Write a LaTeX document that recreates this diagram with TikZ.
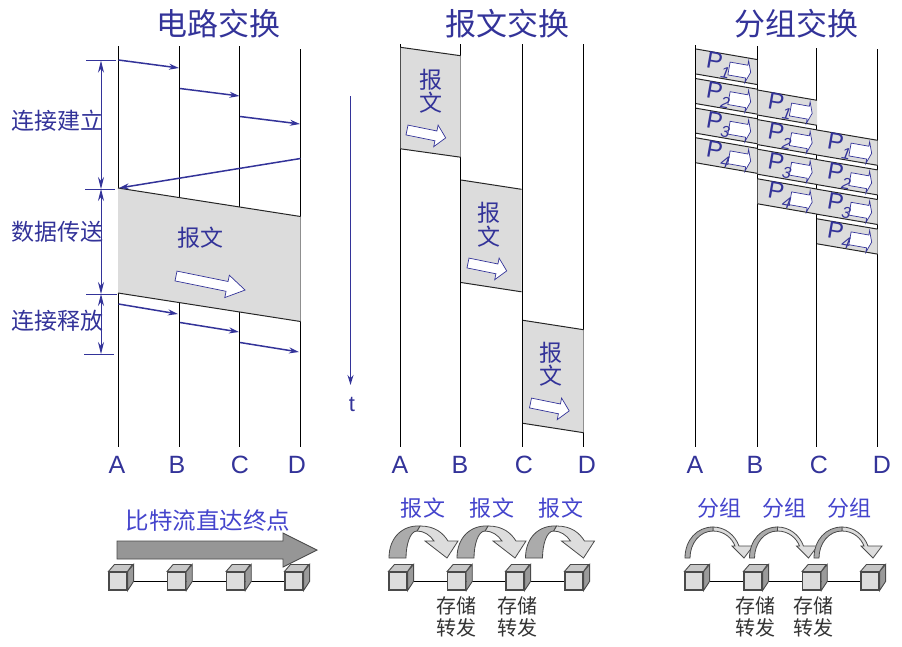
\documentclass[tikz,border=0pt]{standalone}
\usepackage{fontspec}
\setmainfont{Liberation Sans}
\newfontfamily\cjk{Noto Sans CJK SC}
\usetikzlibrary{arrows.meta, positioning, backgrounds}
\definecolor{deepblue}{HTML}{333399}
\definecolor{brightblue}{HTML}{4444CC}
\definecolor{bandgray}{HTML}{DCDCDC}
\definecolor{darkpart}{HTML}{ABABAB}
\definecolor{lightpart}{HTML}{DDDDDD}
\definecolor{edgegray}{HTML}{4A4A4A}
\definecolor{sidegray}{HTML}{9A9A9A}
\definecolor{bigarrow}{HTML}{969696}
\newcommand{\fs}[1]{\fontsize{#1}{#1}\selectfont}
\tikzset{
  titletext/.style={text=deepblue, font=\cjk\fs{31}, inner sep=0pt},
  sidetext/.style={text=deepblue, font=\cjk\fs{23}, inner sep=0pt},
  colname/.style={text=deepblue, font=\fs{25}, inner sep=0pt},
  hoptext/.style={text=brightblue, font=\cjk\fs{22}, inner sep=0pt},
  storetext/.style={text=black!80, font=\cjk\fs{20}, align=center, inner sep=0pt},
  lifeline/.style={draw=black, line width=1.1pt},
  bandedge/.style={draw=black!85, line width=1pt},
  msgarrow/.style={-{Stealth[length=10pt, width=6pt]}, draw=deepblue, line width=1.5pt},
  dimarrow/.style={{Stealth[length=12pt, width=6pt]}-{Stealth[length=12pt, width=6pt]}, draw=deepblue, line width=0.9pt},
  dimtick/.style={draw=deepblue, line width=0.9pt},
  hollow/.style={draw=deepblue, fill=white, line width=0.7pt},
  router/.style={draw=edgegray, fill=lightpart, line width=1.1pt, minimum size=18pt, inner sep=0pt},
  link/.style={draw=black, line width=0.9pt},
  hoparrow/.style={draw=edgegray, line width=0.8pt},
  pics/blockarrow/.style n args={4}{code={
    \path[hollow] (0,-#2) -- (#1-#4,-#2) -- (#1-#4,-#3) -- (#1,0) -- (#1-#4,#3) -- (#1-#4,#2) -- (0,#2) -- cycle;
  }}
}
% gray band between two lifelines
\newcommand{\msgband}[5]{
  \fill[bandgray] (#1,#2) -- (#3,#4) -- (#3,#4+#5) -- (#1,#2+#5) -- cycle;
  \draw[bandedge] (#1,#2) -- (#3,#4);
  \draw[bandedge] (#1,#2+#5) -- (#3,#4+#5);
}
\begin{document}
\begin{tikzpicture}[x=1pt, y=-1pt]
  \useasboundingbox (0,0) rectangle (902,646);

  % ==================== TITLES ====================
  \node (title1) [titletext] at (218,24) {电路交换};
  \node (title2) [titletext] at (507,24) {报文交换};
  \node (title3) [titletext] at (796,24) {分组交换};

  % ==================== LIFELINES ====================
  \foreach \x/\ytop/\name in {118.5/46/A, 179.5/46/B, 239.5/46/C, 300.5/49/D,
                              400.5/44/E, 460.5/44/F, 522.5/44/G, 583.5/44/H,
                              695.5/45/I, 757.5/46/J, 816.5/48/K, 877.5/49/L} {
    \coordinate (top\name) at (\x,\ytop);
    \coordinate (bot\name) at (\x,447);
    \draw[lifeline] (top\name) -- (bot\name);
  }
  \foreach \x/\txt [count=\i] in {117/A, 177/B, 240/C, 297/D, 400/A, 460/B, 524/C, 587/D, 695/A, 755/B, 819/C, 882/D}
    \node (col\i) [colname] at (\x,465) {\txt};

  % ==================== CIRCUIT ====================
  \msgband{118}{188}{300.5}{216.5}{105}
  \foreach \xa/\ya/\xb/\yb [count=\i] in {118.5/60/179/68, 180/88.5/239.5/96, 240/116.5/300/124, 300.5/158.5/119/188,
                                          118.5/304/178/314, 180/322.5/239/332, 240/342.5/299/352} {
    \coordinate (ms\i) at (\xa,\ya);
    \coordinate (me\i) at (\xb,\yb);
    \draw[msgarrow] (ms\i) -- (me\i);
  }
  \foreach \xa/\xb/\y [count=\i] in {86/116/60.7, 85/115/189, 86/117/294, 84/114/354} {
    \coordinate (tl\i) at (\xa,\y);
    \coordinate (tr\i) at (\xb,\y);
    \coordinate (dim\i) at (101,\y);
    \draw[dimtick] (tl\i) -- (tr\i);
  }
  \draw[dimarrow] (dim1) -- (dim2);
  \draw[dimarrow] (dim2) -- (dim3);
  \draw[dimarrow] (dim3) -- (dim4);
  \node (setup) [sidetext] at (57,121) {连接建立};
  \node (data) [sidetext] at (57,232) {数据传送};
  \node (release) [sidetext] at (57,321) {连接释放};
  \node (msg0) [sidetext] at (200,238) {报文};
  \pic[rotate=-11.5] at (176,276) {blockarrow={70.5}{5}{11.4}{18.4}};

  % time axis
  \coordinate (t0) at (350.5,96);
  \coordinate (t1) at (350.5,385);
  \draw[msgarrow] (t0) -- (t1);
  \node (tlabel) [colname, font=\fs{22}] at (352,404) {t};

  % ==================== MESSAGE ====================
  \msgband{400.5}{47.3}{460.5}{55.7}{101.5}
  \msgband{461}{180}{521.5}{189.3}{102.5}
  \msgband{523}{320.3}{583.5}{329.7}{103}
  \foreach \x/\ya/\yb/\ax/\ay [count=\i] in {430.7/80/103/407/130, 488.7/213/237/468/263, 551/353/376/530.5/403} {
    \node (baoa\i) [sidetext] at (\x,\ya) {报};
    \node (wen\i) [sidetext] at (\x,\yb) {文};
    \pic[rotate=-11.5] at (\ax,\ay) {blockarrow={39.5}{5}{11}{10}};
  }

  % ==================== PACKET ====================
  \foreach \cx/\cy/\cw/\cs/\c in {696/49/61/10.5/a, 757.5/90/59.5/10.3/b, 817/130/60.5/10.3/c} {
    \foreach \r in {1,...,4} {
      \pgfmathsetmacro{\ry}{\cy+(\r-1)*29.6}
      \pgfmathsetmacro{\rx}{\cx+\cw}
      \pgfmathsetmacro{\ryy}{\ry+\cs}
      \pgfmathsetmacro{\ax}{\cx+33}
      \pgfmathsetmacro{\ay}{\ry+19.5}
      \pgfmathsetmacro{\px}{\cx+23}
      \pgfmathsetmacro{\py}{\ry+13}
      \msgband{\cx}{\ry}{\rx}{\ryy}{25}
      \pic[rotate=-10] at (\ax,\ay) {blockarrow={22}{6.5}{11}{4}};
      \node (\c p\r) [rotate=-10, text=deepblue, inner sep=0pt, font=\fs{24}] at (\px,\py) {P\smash{\raisebox{-7pt}{\fs{16}\itshape\r}}};
    }
  }

  % ==================== BOTTOM PANELS ====================
  \node (bitflow) [hoptext, font=\cjk\fs{23.5}] at (208,521) {比特流直达终点};
  \draw[draw=edgegray, fill=bigarrow, line width=0.9pt] (117,541) -- (283,541) -- (283,533) -- (317,550) -- (283,567) -- (283,559) -- (117,559) -- cycle;

  % routers
  \foreach \x [count=\i] in {118,176.7,235.7,294, 398,456.7,515,574, 694,753,811.7,870} {
    \node (r\i) [router] at (\x,581) {};
    \fill[sidegray, draw=edgegray, line width=0.9pt] (r\i.north east) -- ++(6,-7) -- ++(0,17) -- (r\i.south east) -- cycle;
    \fill[lightpart!90!black, draw=edgegray, line width=0.9pt] (r\i.north west) -- ++(6,-7) -- ++(18,0) -- (r\i.north east) -- cycle;
  }
  \begin{scope}[on background layer]
    \draw[link] (r1) -- (r2);
    \draw[link] (r2) -- (r3);
    \draw[link] (r3) -- (r4);
    \draw[link] (r5) -- (r6);
    \draw[link] (r6) -- (r7);
    \draw[link] (r7) -- (r8);
    \draw[link] (r9) -- (r10);
    \draw[link] (r10) -- (r11);
    \draw[link] (r11) -- (r12);
  \end{scope}

  % message hops
  \foreach \dx/\lx [count=\i] in {0/423, 68/492, 136.5/561} {
    \begin{scope}[xshift=\dx pt]
      \path[hoparrow, fill=lightpart] (420,526) .. controls (435,526) and (443,533) .. (448,541) -- (458,541) -- (447,558) -- (425,541) -- (434,541) .. controls (430,535) and (424,531) .. (417,531) -- cycle;
      \path[hoparrow, fill=darkpart] (389,558) .. controls (389,537) and (403,525) .. (420,526) -- (417,531) .. controls (410,531) and (406,545) .. (406,558) -- cycle;
    \end{scope}
    \node (mhop\i) [hoptext] at (\lx,508) {报\hspace{1pt}文};
  }
  % packet hops
  \foreach \dx/\lx [count=\i] in {0/719, 64.5/784, 129/849} {
    \begin{scope}[xshift=\dx pt]
      \path[hoparrow, fill=lightpart] (713,527) .. controls (725,527) and (735,535) .. (739,546) -- (753,546) -- (744,558) -- (732,546) -- (735,546) .. controls (732,538) and (724,531) .. (713,531) -- cycle;
      \path[hoparrow, fill=darkpart] (685,558) .. controls (685,540) and (697,527) .. (713,527) -- (713,531) .. controls (700,531) and (690,543) .. (690,558) -- cycle;
    \end{scope}
    \node (phop\i) [hoptext] at (\lx,508) {分组};
  }

  \node (store1) [storetext, below=6pt of r6] {存储\\[2pt]转发};
  \node (store2) [storetext, below=6pt of r7, xshift=2pt] {存储\\[2pt]转发};
  \node (store3) [storetext, below=6pt of r10, xshift=2pt] {存储\\[2pt]转发};
  \node (store4) [storetext, below=6pt of r11, xshift=2pt] {存储\\[2pt]转发};
\end{tikzpicture}
\end{document}
